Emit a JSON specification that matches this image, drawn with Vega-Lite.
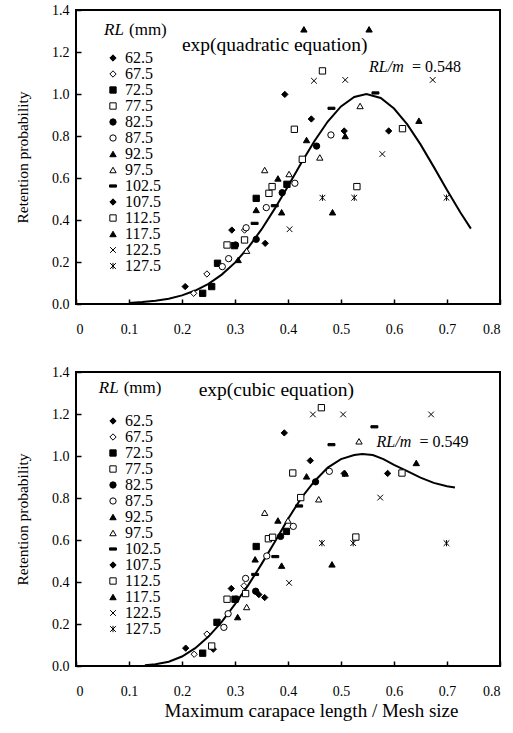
{
  "$schema": "https://vega.github.io/schema/vega-lite/v6.json",
  "background": "white",
  "padding": {"left": 14, "top": 2, "right": 8, "bottom": 4},
  "config": {
    "font": "Liberation Serif",
    "view": {"stroke": "black", "strokeWidth": 2},
    "axis": {
      "grid": false,
      "domain": false,
      "labelFont": "Liberation Serif",
      "labelFontSize": 14,
      "labelColor": "black",
      "titleFont": "Liberation Serif",
      "titleFontSize": 15.5,
      "titleFontWeight": "normal",
      "titleColor": "black",
      "tickColor": "black",
      "tickWidth": 1.5,
      "tickSize": 5,
      "offset": -5
    },
    "legend": {
      "labelFont": "Liberation Serif",
      "labelFontSize": 16,
      "labelColor": "black",
      "rowPadding": 0,
      "symbolStrokeColor": "black",
      "symbolStrokeWidth": 1,
      "symbolSize": 40,
      "labelOffset": 4,
      "padding": 0
    }
  },
  "datasets": {
    "topPts": [
      {"RL": "62.5", "x": 0.206, "y": 0.083}, {"RL": "62.5", "x": 0.294, "y": 0.352}, {"RL": "62.5", "x": 0.357, "y": 0.289},
      {"RL": "67.5", "x": 0.222, "y": 0.051}, {"RL": "67.5", "x": 0.247, "y": 0.143}, {"RL": "67.5", "x": 0.318, "y": 0.352},
      {"RL": "72.5", "x": 0.239, "y": 0.051}, {"RL": "72.5", "x": 0.256, "y": 0.083}, {"RL": "72.5", "x": 0.267, "y": 0.194}, {"RL": "72.5", "x": 0.299, "y": 0.278}, {"RL": "72.5", "x": 0.340, "y": 0.503}, {"RL": "72.5", "x": 0.398, "y": 0.570},
      {"RL": "77.5", "x": 0.285, "y": 0.281}, {"RL": "77.5", "x": 0.318, "y": 0.305}, {"RL": "77.5", "x": 0.364, "y": 0.527}, {"RL": "77.5", "x": 0.370, "y": 0.559},
      {"RL": "82.5", "x": 0.301, "y": 0.281}, {"RL": "82.5", "x": 0.340, "y": 0.308}, {"RL": "82.5", "x": 0.389, "y": 0.530}, {"RL": "82.5", "x": 0.454, "y": 0.752},
      {"RL": "87.5", "x": 0.276, "y": 0.178}, {"RL": "87.5", "x": 0.288, "y": 0.216}, {"RL": "87.5", "x": 0.321, "y": 0.363}, {"RL": "87.5", "x": 0.359, "y": 0.459}, {"RL": "87.5", "x": 0.413, "y": 0.575}, {"RL": "87.5", "x": 0.481, "y": 0.805},
      {"RL": "92.5", "x": 0.306, "y": 0.210}, {"RL": "92.5", "x": 0.340, "y": 0.448}, {"RL": "92.5", "x": 0.381, "y": 0.598}, {"RL": "92.5", "x": 0.388, "y": 0.437}, {"RL": "92.5", "x": 0.435, "y": 0.781},
      {"RL": "97.5", "x": 0.322, "y": 0.254}, {"RL": "97.5", "x": 0.356, "y": 0.638}, {"RL": "97.5", "x": 0.402, "y": 0.619}, {"RL": "97.5", "x": 0.460, "y": 0.698}, {"RL": "97.5", "x": 0.536, "y": 0.943},
      {"RL": "102.5", "x": 0.337, "y": 0.384}, {"RL": "102.5", "x": 0.375, "y": 0.468}, {"RL": "102.5", "x": 0.482, "y": 0.932}, {"RL": "102.5", "x": 0.565, "y": 1.005},
      {"RL": "107.5", "x": 0.394, "y": 0.998}, {"RL": "107.5", "x": 0.444, "y": 0.881}, {"RL": "107.5", "x": 0.506, "y": 0.824}, {"RL": "107.5", "x": 0.590, "y": 0.824},
      {"RL": "112.5", "x": 0.412, "y": 0.832}, {"RL": "112.5", "x": 0.427, "y": 0.689}, {"RL": "112.5", "x": 0.465, "y": 1.110}, {"RL": "112.5", "x": 0.530, "y": 0.559}, {"RL": "112.5", "x": 0.616, "y": 0.835},
      {"RL": "117.5", "x": 0.430, "y": 1.308}, {"RL": "117.5", "x": 0.553, "y": 1.308}, {"RL": "117.5", "x": 0.484, "y": 0.437}, {"RL": "117.5", "x": 0.508, "y": 0.800}, {"RL": "117.5", "x": 0.647, "y": 0.873},
      {"RL": "122.5", "x": 0.403, "y": 0.356}, {"RL": "122.5", "x": 0.449, "y": 1.063}, {"RL": "122.5", "x": 0.508, "y": 1.067}, {"RL": "122.5", "x": 0.578, "y": 0.714}, {"RL": "122.5", "x": 0.673, "y": 1.067},
      {"RL": "127.5", "x": 0.465, "y": 0.506}, {"RL": "127.5", "x": 0.525, "y": 0.506}, {"RL": "127.5", "x": 0.699, "y": 0.506}
    ],
    "botPts": [
      {"RL": "62.5", "x": 0.207, "y": 0.085}, {"RL": "62.5", "x": 0.259, "y": 0.080}, {"RL": "62.5", "x": 0.293, "y": 0.369}, {"RL": "62.5", "x": 0.345, "y": 0.340}, {"RL": "62.5", "x": 0.356, "y": 0.326},
      {"RL": "67.5", "x": 0.223, "y": 0.056}, {"RL": "67.5", "x": 0.247, "y": 0.152}, {"RL": "67.5", "x": 0.317, "y": 0.382},
      {"RL": "72.5", "x": 0.239, "y": 0.061}, {"RL": "72.5", "x": 0.266, "y": 0.208}, {"RL": "72.5", "x": 0.300, "y": 0.318}, {"RL": "72.5", "x": 0.340, "y": 0.569}, {"RL": "72.5", "x": 0.397, "y": 0.641},
      {"RL": "77.5", "x": 0.256, "y": 0.095}, {"RL": "77.5", "x": 0.285, "y": 0.318}, {"RL": "77.5", "x": 0.320, "y": 0.345}, {"RL": "77.5", "x": 0.363, "y": 0.606}, {"RL": "77.5", "x": 0.371, "y": 0.613},
      {"RL": "82.5", "x": 0.302, "y": 0.318}, {"RL": "82.5", "x": 0.339, "y": 0.356}, {"RL": "82.5", "x": 0.386, "y": 0.617}, {"RL": "82.5", "x": 0.452, "y": 0.877},
      {"RL": "87.5", "x": 0.279, "y": 0.184}, {"RL": "87.5", "x": 0.287, "y": 0.249}, {"RL": "87.5", "x": 0.320, "y": 0.417}, {"RL": "87.5", "x": 0.360, "y": 0.524}, {"RL": "87.5", "x": 0.410, "y": 0.665}, {"RL": "87.5", "x": 0.478, "y": 0.927},
      {"RL": "92.5", "x": 0.305, "y": 0.233}, {"RL": "92.5", "x": 0.338, "y": 0.508}, {"RL": "92.5", "x": 0.381, "y": 0.693}, {"RL": "92.5", "x": 0.388, "y": 0.478}, {"RL": "92.5", "x": 0.435, "y": 0.903},
      {"RL": "97.5", "x": 0.322, "y": 0.281}, {"RL": "97.5", "x": 0.356, "y": 0.730}, {"RL": "97.5", "x": 0.400, "y": 0.693}, {"RL": "97.5", "x": 0.458, "y": 0.794}, {"RL": "97.5", "x": 0.534, "y": 1.070},
      {"RL": "102.5", "x": 0.338, "y": 0.436}, {"RL": "102.5", "x": 0.376, "y": 0.521}, {"RL": "102.5", "x": 0.421, "y": 0.762}, {"RL": "102.5", "x": 0.482, "y": 1.054}, {"RL": "102.5", "x": 0.563, "y": 1.139},
      {"RL": "107.5", "x": 0.393, "y": 1.110}, {"RL": "107.5", "x": 0.442, "y": 0.978}, {"RL": "107.5", "x": 0.506, "y": 0.917}, {"RL": "107.5", "x": 0.588, "y": 0.917},
      {"RL": "112.5", "x": 0.409, "y": 0.919}, {"RL": "112.5", "x": 0.424, "y": 0.802}, {"RL": "112.5", "x": 0.463, "y": 1.230}, {"RL": "112.5", "x": 0.528, "y": 0.614}, {"RL": "112.5", "x": 0.615, "y": 0.919},
      {"RL": "117.5", "x": 0.483, "y": 0.484}, {"RL": "117.5", "x": 0.508, "y": 0.917}, {"RL": "117.5", "x": 0.642, "y": 0.967},
      {"RL": "122.5", "x": 0.402, "y": 0.396}, {"RL": "122.5", "x": 0.447, "y": 1.198}, {"RL": "122.5", "x": 0.504, "y": 1.198}, {"RL": "122.5", "x": 0.574, "y": 0.802}, {"RL": "122.5", "x": 0.670, "y": 1.198},
      {"RL": "127.5", "x": 0.464, "y": 0.585}, {"RL": "127.5", "x": 0.523, "y": 0.585}, {"RL": "127.5", "x": 0.699, "y": 0.585}
    ],
    "topCurve": [
      {"x": 0.100, "y": 0.005}, {"x": 0.125, "y": 0.009}, {"x": 0.150, "y": 0.015}, {"x": 0.175, "y": 0.025},
      {"x": 0.200, "y": 0.041}, {"x": 0.225, "y": 0.064}, {"x": 0.250, "y": 0.096}, {"x": 0.275, "y": 0.140},
      {"x": 0.300, "y": 0.197}, {"x": 0.325, "y": 0.269}, {"x": 0.350, "y": 0.355}, {"x": 0.375, "y": 0.454},
      {"x": 0.400, "y": 0.561}, {"x": 0.425, "y": 0.671}, {"x": 0.450, "y": 0.776}, {"x": 0.475, "y": 0.869},
      {"x": 0.500, "y": 0.941}, {"x": 0.525, "y": 0.986}, {"x": 0.548, "y": 1.000}, {"x": 0.575, "y": 0.981},
      {"x": 0.600, "y": 0.931}, {"x": 0.625, "y": 0.855}, {"x": 0.650, "y": 0.760}, {"x": 0.675, "y": 0.653},
      {"x": 0.700, "y": 0.543}, {"x": 0.725, "y": 0.437}, {"x": 0.745, "y": 0.359}
    ],
    "botCurve": [
      {"x": 0.130, "y": 0.003}, {"x": 0.150, "y": 0.008}, {"x": 0.175, "y": 0.020}, {"x": 0.200, "y": 0.045},
      {"x": 0.225, "y": 0.085}, {"x": 0.250, "y": 0.140}, {"x": 0.275, "y": 0.210}, {"x": 0.300, "y": 0.295},
      {"x": 0.325, "y": 0.385}, {"x": 0.350, "y": 0.485}, {"x": 0.375, "y": 0.590}, {"x": 0.400, "y": 0.700},
      {"x": 0.425, "y": 0.800}, {"x": 0.450, "y": 0.880}, {"x": 0.475, "y": 0.945}, {"x": 0.500, "y": 0.985},
      {"x": 0.525, "y": 1.005}, {"x": 0.540, "y": 1.010}, {"x": 0.560, "y": 1.005}, {"x": 0.580, "y": 0.985},
      {"x": 0.600, "y": 0.958}, {"x": 0.625, "y": 0.928}, {"x": 0.650, "y": 0.897}, {"x": 0.675, "y": 0.872},
      {"x": 0.700, "y": 0.856}, {"x": 0.715, "y": 0.850}
    ]
  },
  "resolve": {"legend": {"shape": "independent", "fill": "independent", "stroke": "independent"}},
  "spacing": 27,
  "vconcat": [
    {
      "width": 424,
      "height": 294,
      "layer": [
        {
          "data": {"name": "topCurve"},
          "mark": {"type": "line", "color": "black", "strokeWidth": 2},
          "encoding": {
            "x": {"field": "x", "type": "quantitative", "scale": {"domain": [0, 0.8]},
              "axis": {"title": null, "values": [0,0.05,0.1,0.15,0.2,0.25,0.3,0.35,0.4,0.45,0.5,0.55,0.6,0.65,0.7,0.75,0.8], "labelExpr": "round(datum.value*20)%2==0 ? format(datum.value,'.1~f') : ''", "labelPadding": 18}},
            "y": {"field": "y", "type": "quantitative", "scale": {"domain": [0, 1.4]},
              "axis": {"title": "Retention probability", "values": [0,0.1,0.2,0.3,0.4,0.5,0.6,0.7,0.8,0.9,1.0,1.1,1.2,1.3,1.4], "labelExpr": "round(datum.value*10)%2==0 ? format(datum.value,'.1f') : ''", "labelPadding": 7, "titlePadding": 21}}
          }
        },
        {
          "data": {"name": "topPts"},
          "mark": {"type": "point", "filled": true, "strokeWidth": 1, "opacity": 1, "size": 40},
          "encoding": {
            "x": {"field": "x", "type": "quantitative"},
            "y": {"field": "y", "type": "quantitative"},
            "shape": {"field": "RL", "type": "nominal",
              "scale": {"domain": ["62.5","67.5","72.5","77.5","82.5","87.5","92.5","97.5","102.5","107.5","112.5","117.5","122.5","127.5"],
                "range": ["diamond","diamond","square","square","circle","circle","triangle-up","triangle-up","M-1.1,-0.35H1.1V0.35H-1.1Z","diamond","square","triangle-up","M-0.9,-0.9L0.9,0.9M-0.9,0.9L0.9,-0.9","M-0.9,-0.9L0.9,0.9M-0.9,0.9L0.9,-0.9M0,-1L0,1"]},
              "legend": {"title": null, "orient": "none", "legendX": 29, "legendY": 40}},
            "fill": {"field": "RL", "type": "nominal",
              "scale": {"domain": ["62.5","67.5","72.5","77.5","82.5","87.5","92.5","97.5","102.5","107.5","112.5","117.5","122.5","127.5"],
                "range": ["black","white","black","white","black","white","black","white","black","black","white","black","black","black"]},
              "legend": {"title": null, "orient": "none", "legendX": 29, "legendY": 40}},
            "stroke": {"field": "RL", "type": "nominal",
              "scale": {"domain": ["62.5","67.5","72.5","77.5","82.5","87.5","92.5","97.5","102.5","107.5","112.5","117.5","122.5","127.5"],
                "range": ["black","black","black","black","black","black","black","black","black","black","black","black","black","black"]},
              "legend": {"title": null, "orient": "none", "legendX": 29, "legendY": 40}}
          }
        },
        {
          "data": {"values": [{}]},
          "mark": {"type": "text", "font": "Liberation Serif", "fontSize": 19.5, "align": "center", "baseline": "middle", "color": "black"},
          "encoding": {"x": {"datum": 0.375}, "y": {"datum": 1.235}, "text": {"value": "exp(quadratic equation)"}}
        },
        {
          "data": {"values": [{}]},
          "mark": {"type": "text", "font": "Liberation Serif", "fontSize": 16, "fontStyle": "italic", "align": "left", "baseline": "middle", "color": "black"},
          "encoding": {"x": {"datum": 0.553}, "y": {"datum": 1.13}, "text": {"value": "RL/m"}}
        },
        {
          "data": {"values": [{}]},
          "mark": {"type": "text", "font": "Liberation Serif", "fontSize": 16, "align": "left", "baseline": "middle", "color": "black"},
          "encoding": {"x": {"datum": 0.634}, "y": {"datum": 1.13}, "text": {"value": "= 0.548"}}
        },
        {
          "data": {"values": [{}]},
          "mark": {"type": "text", "font": "Liberation Serif", "fontSize": 17, "fontStyle": "italic", "align": "left", "baseline": "middle", "color": "black"},
          "encoding": {"x": {"datum": 0.053}, "y": {"datum": 1.305}, "text": {"value": "RL"}}
        },
        {
          "data": {"values": [{}]},
          "mark": {"type": "text", "font": "Liberation Serif", "fontSize": 17, "align": "left", "baseline": "middle", "color": "black"},
          "encoding": {"x": {"datum": 0.1}, "y": {"datum": 1.305}, "text": {"value": "(mm)"}}
        }
      ]
    },
    {
      "width": 424,
      "height": 294,
      "layer": [
        {
          "data": {"name": "botCurve"},
          "mark": {"type": "line", "color": "black", "strokeWidth": 2},
          "encoding": {
            "x": {"field": "x", "type": "quantitative", "scale": {"domain": [0, 0.8]},
              "axis": {"title": "Maximum carapace length / Mesh size", "titleFontSize": 19, "titleX": 235, "titleAlign": "center", "values": [0,0.05,0.1,0.15,0.2,0.25,0.3,0.35,0.4,0.45,0.5,0.55,0.6,0.65,0.7,0.75,0.8], "labelExpr": "round(datum.value*20)%2==0 ? format(datum.value,'.1~f') : ''", "labelPadding": 18, "titlePadding": 3}},
            "y": {"field": "y", "type": "quantitative", "scale": {"domain": [0, 1.4]},
              "axis": {"title": "Retention probability", "values": [0,0.1,0.2,0.3,0.4,0.5,0.6,0.7,0.8,0.9,1.0,1.1,1.2,1.3,1.4], "labelExpr": "round(datum.value*10)%2==0 ? format(datum.value,'.1f') : ''", "labelPadding": 7, "titlePadding": 21}}
          }
        },
        {
          "data": {"name": "botPts"},
          "mark": {"type": "point", "filled": true, "strokeWidth": 1, "opacity": 1, "size": 40},
          "encoding": {
            "x": {"field": "x", "type": "quantitative"},
            "y": {"field": "y", "type": "quantitative"},
            "shape": {"field": "RL", "type": "nominal",
              "scale": {"domain": ["62.5","67.5","72.5","77.5","82.5","87.5","92.5","97.5","102.5","107.5","112.5","117.5","122.5","127.5"],
                "range": ["diamond","diamond","square","square","circle","circle","triangle-up","triangle-up","M-1.1,-0.35H1.1V0.35H-1.1Z","diamond","square","triangle-up","M-0.9,-0.9L0.9,0.9M-0.9,0.9L0.9,-0.9","M-0.9,-0.9L0.9,0.9M-0.9,0.9L0.9,-0.9M0,-1L0,1"]},
              "legend": {"title": null, "orient": "none", "legendX": 29, "legendY": 41}},
            "fill": {"field": "RL", "type": "nominal",
              "scale": {"domain": ["62.5","67.5","72.5","77.5","82.5","87.5","92.5","97.5","102.5","107.5","112.5","117.5","122.5","127.5"],
                "range": ["black","white","black","white","black","white","black","white","black","black","white","black","black","black"]},
              "legend": {"title": null, "orient": "none", "legendX": 29, "legendY": 41}},
            "stroke": {"field": "RL", "type": "nominal",
              "scale": {"domain": ["62.5","67.5","72.5","77.5","82.5","87.5","92.5","97.5","102.5","107.5","112.5","117.5","122.5","127.5"],
                "range": ["black","black","black","black","black","black","black","black","black","black","black","black","black","black"]},
              "legend": {"title": null, "orient": "none", "legendX": 29, "legendY": 41}}
          }
        },
        {
          "data": {"values": [{}]},
          "mark": {"type": "text", "font": "Liberation Serif", "fontSize": 19.5, "align": "center", "baseline": "middle", "color": "black"},
          "encoding": {"x": {"datum": 0.378}, "y": {"datum": 1.315}, "text": {"value": "exp(cubic equation)"}}
        },
        {
          "data": {"values": [{}]},
          "mark": {"type": "text", "font": "Liberation Serif", "fontSize": 16, "fontStyle": "italic", "align": "left", "baseline": "middle", "color": "black"},
          "encoding": {"x": {"datum": 0.567}, "y": {"datum": 1.066}, "text": {"value": "RL/m"}}
        },
        {
          "data": {"values": [{}]},
          "mark": {"type": "text", "font": "Liberation Serif", "fontSize": 16, "align": "left", "baseline": "middle", "color": "black"},
          "encoding": {"x": {"datum": 0.648}, "y": {"datum": 1.066}, "text": {"value": "= 0.549"}}
        },
        {
          "data": {"values": [{}]},
          "mark": {"type": "text", "font": "Liberation Serif", "fontSize": 17, "fontStyle": "italic", "align": "left", "baseline": "middle", "color": "black"},
          "encoding": {"x": {"datum": 0.043}, "y": {"datum": 1.325}, "text": {"value": "RL"}}
        },
        {
          "data": {"values": [{}]},
          "mark": {"type": "text", "font": "Liberation Serif", "fontSize": 17, "align": "left", "baseline": "middle", "color": "black"},
          "encoding": {"x": {"datum": 0.09}, "y": {"datum": 1.325}, "text": {"value": "(mm)"}}
        }
      ]
    }
  ]
}
